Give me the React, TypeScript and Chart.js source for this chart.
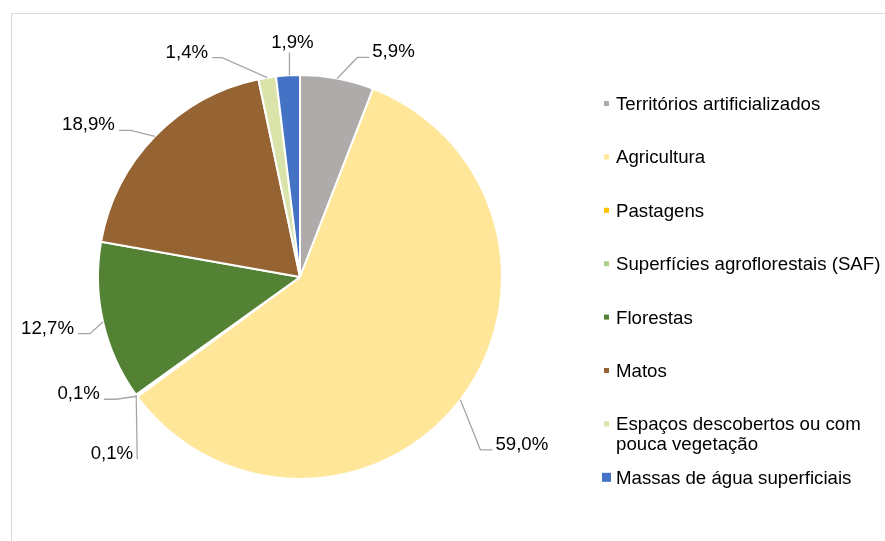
import { useEffect, useRef } from "react";
import { Chart, ArcElement, PieController } from "chart.js";

Chart.register(ArcElement, PieController);

// Land-use shares (%)
const categories = [
  "Territórios artificializados",
  "Agricultura",
  "Pastagens",
  "Superfícies agroflorestais (SAF)",
  "Florestas",
  "Matos",
  "Espaços descobertos ou com pouca vegetação",
  "Massas de água superficiais",
];
const shares = [5.9, 59.0, 0.1, 0.1, 12.7, 18.9, 1.4, 1.9];
const valueLabels = shares.map((v) => v.toFixed(1).replace(".", ",") + "%");

const sliceColors = [
  "#AEABAA",
  "#FFE699",
  "#FFC000",
  "#A9D18E",
  "#548235",
  "#956432",
  "#DAE3A9",
  "#4472C4",
];

// Legend marker edge length per entry
const legendMarkerSizes = [5, 5, 5, 5, 5, 5, 5, 9];

// Leader-line geometry per slice, relative to the slice's outer edge midpoint:
// elbow offset, horizontal tail length, and where the text sits.
type Callout = { ex: number; ey: number; tail: number; text: "right" | "left" | "above" | "leftOfEnd" };
const callouts: Callout[] = [
  { ex: 20, ey: -21, tail: 12, text: "right" },
  { ex: 20, ey: 50, tail: 12, text: "right" },
  { ex: -21, ey: 3, tail: -12, text: "left" },
  { ex: 1, ey: 64, tail: 0, text: "leftOfEnd" },
  { ex: -13, ey: 12, tail: -12, text: "left" },
  { ex: -24, ey: -6, tail: -12, text: "left" },
  { ex: -45, ey: -20, tail: -10, text: "left" },
  { ex: 1.5, ey: -23, tail: 0, text: "above" },
];

const FONT = '18.67px "Liberation Sans", Arial, sans-serif';

const framePlugin = {
  id: "frame",
  beforeDraw(chart: Chart) {
    const { ctx, width, height } = chart;
    ctx.save();
    ctx.fillStyle = "#ffffff";
    ctx.fillRect(0, 0, width, height);
    ctx.strokeStyle = "#D9D9D9";
    ctx.lineWidth = 1;
    ctx.strokeRect(11.5, 13.5, width + 20, height + 20);
    ctx.restore();
  },
};

const calloutPlugin = {
  id: "callouts",
  afterDatasetsDraw(chart: Chart) {
    const { ctx } = chart;
    const meta = chart.getDatasetMeta(0);
    ctx.save();
    ctx.font = FONT;
    ctx.fillStyle = "#000000";
    ctx.textBaseline = "alphabetic";
    meta.data.forEach((el: any, i: number) => {
      const c = callouts[i];
      const { x, y, startAngle, endAngle, outerRadius } = el.getProps(
        ["x", "y", "startAngle", "endAngle", "outerRadius"],
        true
      );
      const mid = (startAngle + endAngle) / 2;
      const sx = x + Math.cos(mid) * outerRadius;
      const sy = y + Math.sin(mid) * outerRadius;
      const bx = sx + c.ex;
      const by = sy + c.ey;
      const tx = bx + c.tail;
      ctx.strokeStyle = "#A6A6A6";
      ctx.lineWidth = 1.3;
      ctx.beginPath();
      ctx.moveTo(c.text === "above" ? bx : sx, sy);
      ctx.lineTo(bx, by);
      if (c.tail !== 0) ctx.lineTo(tx, by);
      ctx.stroke();
      const label = valueLabels[i];
      if (c.text === "right") {
        ctx.textAlign = "left";
        ctx.fillText(label, tx + 3, by);
      } else if (c.text === "left") {
        ctx.textAlign = "right";
        ctx.fillText(label, tx - 4, by);
      } else if (c.text === "above") {
        ctx.textAlign = "center";
        ctx.fillText(label, tx + 3, by - 4);
      } else {
        ctx.textAlign = "right";
        ctx.fillText(label, tx - 4, by);
      }
    });
    ctx.restore();
  },
};

function wrap(ctx: CanvasRenderingContext2D, text: string, maxWidth: number): string[] {
  const words = text.split(" ");
  const lines: string[] = [];
  let line = "";
  for (const w of words) {
    const test = line ? line + " " + w : w;
    if (line && ctx.measureText(test).width > maxWidth) {
      lines.push(line);
      line = w;
    } else {
      line = test;
    }
  }
  if (line) lines.push(line);
  return lines;
}

const legendPlugin = {
  id: "sideLegend",
  afterDraw(chart: Chart) {
    const { ctx } = chart;
    const markerX = 606.5;
    const textX = 616;
    const firstY = 103.5;
    const step = 53.4;
    const lineGap = 20;
    ctx.save();
    ctx.font = FONT;
    ctx.textAlign = "left";
    ctx.textBaseline = "alphabetic";
    categories.forEach((name, i) => {
      const cy = firstY + i * step;
      const s = legendMarkerSizes[i];
      ctx.fillStyle = sliceColors[i];
      ctx.fillRect(markerX - s / 2, cy - s / 2, s, s);
      ctx.fillStyle = "#000000";
      const lines = wrap(ctx, name, 280);
      lines.forEach((ln, k) => {
        ctx.fillText(ln, textX, cy + 6.5 + k * lineGap);
      });
    });
    ctx.restore();
  },
};

export default function App() {
  const canvasRef = useRef<HTMLCanvasElement | null>(null);

  useEffect(() => {
    const canvas = canvasRef.current;
    if (!canvas) return;
    const chart = new Chart(canvas, {
      type: "pie",
      data: {
        labels: categories,
        datasets: [
          {
            data: shares,
            backgroundColor: sliceColors,
            borderColor: "#ffffff",
            borderWidth: 2,
          },
        ],
      },
      options: {
        responsive: false,
        animation: false,
        radius: 202,
        rotation: 0,
        layout: { padding: { left: 0, right: 285, top: 13, bottom: 0 } },
        plugins: {
          legend: { display: false },
          tooltip: { enabled: false },
        },
      } as any,
      plugins: [framePlugin, calloutPlugin, legendPlugin],
    });
    return () => chart.destroy();
  }, []);

  return (
    <div style={{ position: "absolute", left: 0, top: 0, width: 885, height: 541 }}>
      <canvas ref={canvasRef} width={885} height={541} style={{ display: "block" }} />
    </div>
  );
}
